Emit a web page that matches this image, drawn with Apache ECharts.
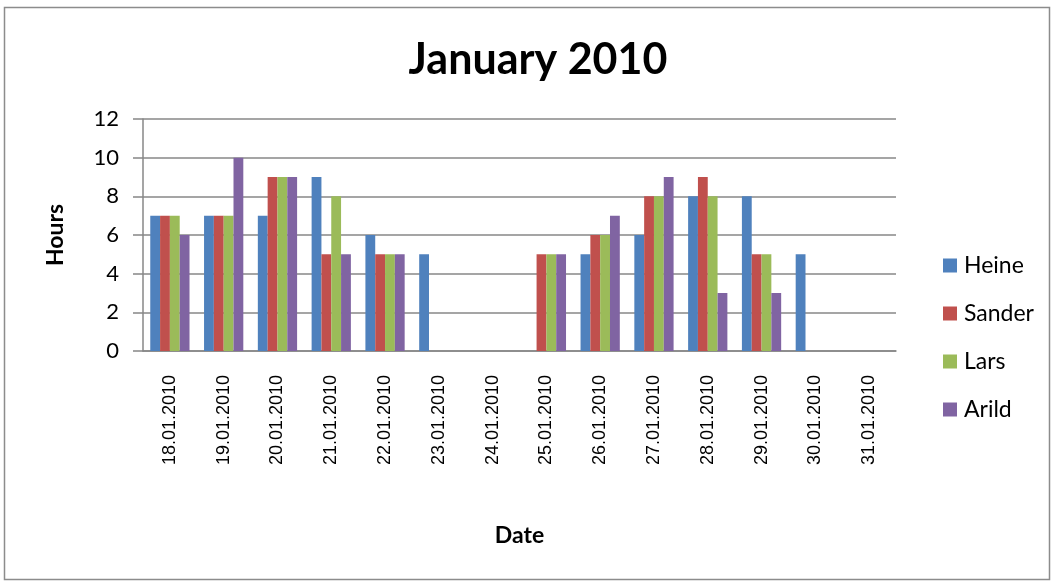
<!DOCTYPE html>
<html>
<head>
<meta charset="utf-8">
<script src="https://cdn.jsdelivr.net/npm/echarts@6/dist/echarts.min.js"></script>
<style>
  html, body { margin: 0; padding: 0; background: #fff; }
  #chart { width: 1052px; height: 583px; }
</style>
</head>
<body>
<div id="chart"></div>
<script>
// Hours worked per person, one group of bars per day
const dates = ['18.01.2010', '19.01.2010', '20.01.2010', '21.01.2010', '22.01.2010',
  '23.01.2010', '24.01.2010', '25.01.2010', '26.01.2010', '27.01.2010',
  '28.01.2010', '29.01.2010', '30.01.2010', '31.01.2010'];
const heine  = [7, 7, 7, 9, 6, 5, 0, 0, 5, 6, 8, 8, 5, 0];
const sander = [7, 7, 9, 5, 5, 0, 0, 5, 6, 8, 9, 5, 0, 0];
const lars   = [7, 7, 9, 8, 5, 0, 0, 5, 6, 8, 8, 5, 0, 0];
const arild  = [6, 10, 9, 5, 5, 0, 0, 5, 7, 9, 3, 3, 0, 0];
const names = ['Heine', 'Sander', 'Lars', 'Arild'];
const colors = ['#4F81BD', '#C0504D', '#9BBB59', '#8064A2'];

const chart = echarts.init(document.getElementById('chart'), null, { renderer: 'canvas' });

const bar = (name, data, color) => ({
  name: name,
  type: 'bar',
  data: data,
  barGap: '0%',
  barCategoryGap: '27%',
  itemStyle: { color: color },
  emphasis: { disabled: true }
});

chart.setOption({
  animation: false,
  backgroundColor: '#ffffff',
  graphic: [{
    type: 'rect',
    shape: { x: 4.5, y: 7.5, width: 1045, height: 572 },
    style: { fill: 'none', stroke: '#8c8c8c', lineWidth: 1.5 },
    silent: true
  }],
  title: {
    text: 'January 2010',
    left: 533,
    textAlign: 'center',
    top: 34,
    textStyle: { fontFamily: 'Lato', fontWeight: 'bold', fontSize: 43, color: '#000' }
  },
  legend: {
    orient: 'vertical',
    left: 938,
    top: 249,
    itemWidth: 14,
    itemHeight: 14,
    itemGap: 25,
    icon: 'rect',
    textStyle: { fontFamily: 'Lato', fontSize: 23, color: '#000', padding: [0, 0, 0, 2] },
    data: names
  },
  grid: { left: 143, top: 119, right: 156, bottom: 232, containLabel: false },
  xAxis: {
    type: 'category',
    data: dates,
    name: 'Date',
    nameLocation: 'middle',
    nameGap: 173,
    nameTextStyle: { fontFamily: 'Lato', fontWeight: 'bold', fontSize: 23, color: '#000' },
    axisLine: { lineStyle: { color: '#878787', width: 1.5 } },
    axisTick: { show: false },
    axisLabel: {
      rotate: 90,
      margin: 24,
      interval: 0,
      fontFamily: 'Arial, "Liberation Sans", sans-serif',
      fontSize: 18,
      color: '#000'
    }
  },
  yAxis: {
    type: 'value',
    min: 0,
    max: 12,
    interval: 2,
    name: 'Hours',
    nameLocation: 'middle',
    nameRotate: 90,
    nameGap: 76,
    nameTextStyle: { fontFamily: 'Lato', fontWeight: 'bold', fontSize: 23, color: '#000' },
    axisLine: { show: true, lineStyle: { color: '#878787', width: 1.5 } },
    axisTick: { show: true, inside: false, length: 10, lineStyle: { color: '#878787', width: 1.5 } },
    splitLine: { lineStyle: { color: '#878787', width: 1.5 } },
    axisLabel: { margin: 24, fontFamily: 'Lato', fontSize: 22, color: '#000' }
  },
  series: [
    bar(names[0], heine, colors[0]),
    bar(names[1], sander, colors[1]),
    bar(names[2], lars, colors[2]),
    bar(names[3], arild, colors[3])
  ]
});
</script>
</body>
</html>
